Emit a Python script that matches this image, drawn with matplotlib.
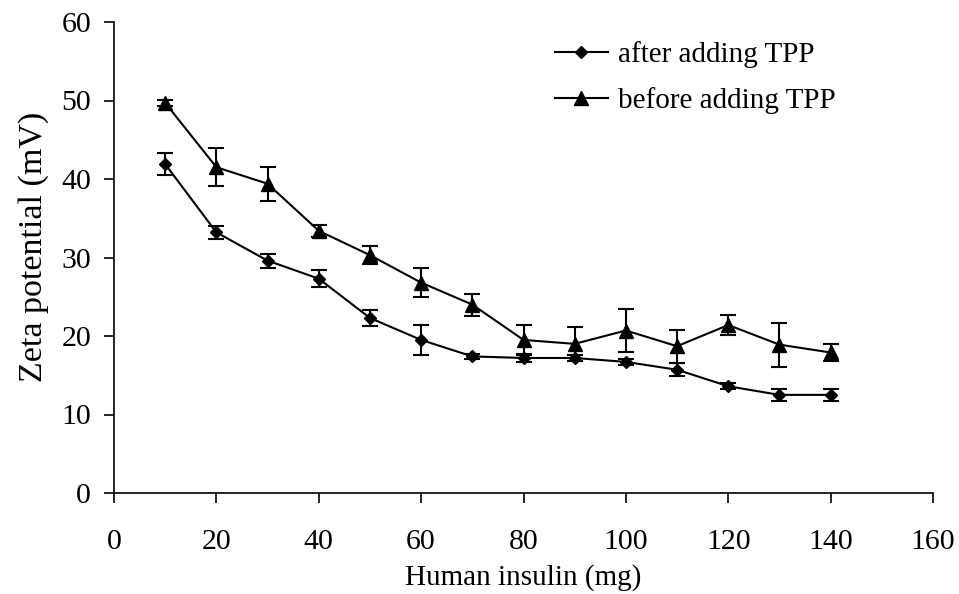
import matplotlib
matplotlib.use("Agg")
import matplotlib.pyplot as plt

insulin_mg = [10, 20, 30, 40, 50, 60, 70, 80, 90, 100, 110, 120, 130, 140]
after_tpp = [41.9, 33.2, 29.6, 27.3, 22.3, 19.5, 17.4, 17.2, 17.2, 16.7, 15.7, 13.6, 12.5, 12.5]
after_err = [1.4, 0.85, 0.9, 1.1, 1.0, 1.9, 0.3, 0.5, 0.4, 0.4, 0.85, 0.4, 0.75, 0.75]
before_tpp = [49.7, 41.5, 39.4, 33.4, 30.3, 26.8, 24.0, 19.5, 19.0, 20.7, 18.7, 21.4, 18.9, 17.9]
before_err = [0.4, 2.4, 2.15, 0.75, 1.15, 1.8, 1.4, 1.9, 2.2, 2.7, 2.1, 1.25, 2.8, 1.1]

xticks = [0, 20, 40, 60, 80, 100, 120, 140, 160]
yticks = [0, 10, 20, 30, 40, 50, 60]

plt.rcParams['font.family'] = ['Liberation Serif', 'DejaVu Serif']

fig = plt.figure(figsize=(9.59, 5.94), dpi=100)
ax = fig.add_axes([114/959, 1 - 493/594, (933-114)/959, (493-22)/594])

ax.errorbar(insulin_mg, after_tpp, yerr=after_err, color='black', marker='D',
            markersize=6.5, linewidth=1.5, capsize=5.5, elinewidth=1.5, capthick=1.5,
            label='after adding TPP')
ax.errorbar(insulin_mg, before_tpp, yerr=before_err, color='black', marker='^',
            markersize=9.5, linewidth=1.5, capsize=5.5, elinewidth=1.5, capthick=1.5,
            label='before adding TPP')

ax.set_xlim(0, 160)
ax.set_ylim(0, 60)
ax.set_xticks(xticks)
ax.set_yticks(yticks)
ax.spines['top'].set_visible(False)
ax.spines['right'].set_visible(False)
for s in ('left', 'bottom'):
    ax.spines[s].set_linewidth(1.2)
ax.tick_params(direction='out', length=7, width=1.2, labelsize=21.5)
ax.tick_params(axis='x', pad=19)
ax.tick_params(axis='y', pad=9.5)
ax.set_xlabel('Human insulin (mg)', fontsize=21, labelpad=6.5)
ax.set_ylabel('Zeta potential (mV)', fontsize=24.5)
ax.yaxis.set_label_coords((49 - 114) / 819, 0.523)

handles, labels = ax.get_legend_handles_labels()
handles = [h[0] for h in handles]
ax.legend(handles, labels, loc='upper left', bbox_to_anchor=(555/959, 1 - 41/594),
          bbox_transform=fig.transFigure, frameon=False, borderpad=0, borderaxespad=0,
          fontsize=21, handlelength=1.8, handletextpad=0.35, labelspacing=0.65)

fig.savefig('out.png', dpi=100)
